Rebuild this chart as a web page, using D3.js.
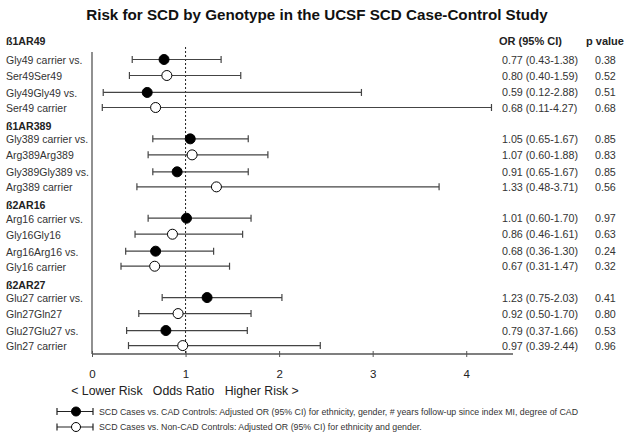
<!DOCTYPE html>
<html><head><meta charset="utf-8">
<script src="https://cdn.jsdelivr.net/npm/d3@7"></script>
<style>body{margin:0;background:#fff}svg{display:block;font-family:"Liberation Sans",Arial,sans-serif}</style>
</head><body><svg id="c" width="629" height="438"></svg>
<script>
const groups = ["ß1AR49","ß1AR389","ß2AR16","ß2AR27"];
const labelsA = ["Gly49 carrier vs.","Ser49Ser49","Gly49Gly49 vs.","Ser49 carrier",
                 "Gly389 carrier vs.","Arg389Arg389","Gly389Gly389 vs.","Arg389 carrier",
                 "Arg16 carrier vs.","Gly16Gly16","Arg16Arg16 vs.","Gly16 carrier",
                 "Glu27 carrier vs.","Gln27Gln27","Glu27Glu27 vs.","Gln27 carrier"];
const series = ["CAD","NonCAD","CAD","NonCAD","CAD","NonCAD","CAD","NonCAD","CAD","NonCAD","CAD","NonCAD","CAD","NonCAD","CAD","NonCAD"];
const orVal = [0.77,0.80,0.59,0.68, 1.05,1.07,0.91,1.33, 1.01,0.86,0.68,0.67, 1.23,0.92,0.79,0.97];
const ciLo  = [0.43,0.40,0.12,0.11, 0.65,0.60,0.65,0.48, 0.60,0.46,0.36,0.31, 0.75,0.50,0.37,0.39];
const ciHi  = [1.38,1.59,2.88,4.27, 1.67,1.88,1.67,3.71, 1.70,1.61,1.30,1.47, 2.03,1.70,1.66,2.44];
const pVal  = ["0.38","0.52","0.51","0.68","0.85","0.83","0.85","0.56","0.97","0.63","0.24","0.32","0.41","0.80","0.53","0.96"];
const xTicks = [0,1,2,3,4];
const legendText = ["SCD Cases vs. CAD Controls: Adjusted OR (95% CI) for ethnicity, gender, # years follow-up since index MI, degree of CAD",
                    "SCD Cases vs. Non-CAD Controls: Adjusted OR (95% CI) for ethnicity and gender."];
const legendSeries = ["CAD","NonCAD"];

const svg = d3.select("#c");
const x = d3.scaleLinear().domain([0,4.5]).range([92,513]);
const within = [0,1,2.06,3];
const pos = (i)=> Math.floor(i/4)*4.96 + within[i%4];
const y = d3.scaleLinear().domain([0,1]).range([59.5,75.5]);
const rows = orVal.map((v,i)=>({v,lo:ciLo[i],hi:ciHi[i],p:pVal[i],s:series[i],lab:labelsA[i],y:y(pos(i))}));
const col = "#333";

svg.append("text").attr("x",317).attr("y",20).attr("text-anchor","middle")
  .attr("font-weight","bold").attr("font-size",15.2).attr("fill","#111")
  .text("Risk for SCD by Genotype in the UCSF SCD Case-Control Study");

groups.forEach((g,gi)=>{
  const yy = gi===0 ? 45 : y(gi*4.96)-9;
  svg.append("text").attr("x",6).attr("y",yy).attr("font-weight","bold")
    .attr("font-size",10.6).attr("fill","#222").text(g);
});
svg.append("text").attr("x",499).attr("y",45).attr("font-weight","bold").attr("font-size",11).attr("fill","#222").text("OR (95% CI)");
svg.append("text").attr("x",586).attr("y",45).attr("font-weight","bold").attr("font-size",11).attr("fill","#222").text("p value");

const axisY = 354;
const xa = svg.append("g").attr("transform",`translate(0,${axisY})`)
  .call(d3.axisBottom(x).tickValues(xTicks).tickSize(4).tickFormat(d3.format("d")));
xa.select(".domain").attr("stroke","#555").attr("stroke-width",1.3).attr("d",`M${x(0)},0H${x(4.5)}`);
xa.selectAll(".tick line").attr("stroke","#555").attr("y1",-3).attr("y2",3);
xa.selectAll(".tick text").attr("font-size",11.5).attr("fill","#222").attr("dy",0).attr("y",24).attr("font-family","Liberation Sans, Arial");
svg.append("line").attr("x1",x(0)).attr("x2",x(0)).attr("y1",52).attr("y2",axisY).attr("stroke","#555").attr("stroke-width",1.3);
svg.append("line").attr("x1",x(1)).attr("x2",x(1)).attr("y1",47).attr("y2",axisY).attr("stroke","#222").attr("stroke-width",1).attr("stroke-dasharray","2,2");

svg.append("text").attr("x",185).attr("y",395).attr("text-anchor","middle").attr("font-size",12.3).attr("fill","#222")
  .attr("xml:space","preserve").text("< Lower Risk   Odds Ratio   Higher Risk >");

const rg = svg.selectAll(".row").data(rows).enter().append("g");
rg.append("text").attr("x",6).attr("y",d=>d.y+4.5).attr("font-size",10.5).attr("fill",col).text(d=>d.lab);
rg.append("line").attr("x1",d=>x(d.lo)).attr("x2",d=>x(d.hi)).attr("y1",d=>d.y).attr("y2",d=>d.y).attr("stroke","#444").attr("stroke-width",1.2);
rg.append("line").attr("x1",d=>x(d.lo)).attr("x2",d=>x(d.lo)).attr("y1",d=>d.y-3.5).attr("y2",d=>d.y+3.5).attr("stroke","#444").attr("stroke-width",1.2);
rg.append("line").attr("x1",d=>x(d.hi)).attr("x2",d=>x(d.hi)).attr("y1",d=>d.y-3.5).attr("y2",d=>d.y+3.5).attr("stroke","#444").attr("stroke-width",1.2);
rg.append("circle").attr("cx",d=>x(d.v)).attr("cy",d=>d.y).attr("r",5)
  .attr("fill",d=>d.s==="CAD"?"#000":"#fff").attr("stroke","#000").attr("stroke-width",1);
rg.append("text").attr("x",502).attr("y",d=>d.y+4).attr("font-size",10.7).attr("fill",col)
  .text((d)=>`${d.v.toFixed(2)} (${d.lo.toFixed(2)}-${d.hi.toFixed(2)})`);
rg.append("text").attr("x",595).attr("y",d=>d.y+4).attr("font-size",10.7).attr("fill",col).text(d=>d.p);

legendSeries.forEach((s,i)=>{
  const ly = 411.5 + i*15.5;
  const g = svg.append("g");
  g.append("line").attr("x1",57).attr("x2",93).attr("y1",ly).attr("y2",ly).attr("stroke","#222").attr("stroke-width",1.2);
  g.append("line").attr("x1",57).attr("x2",57).attr("y1",ly-3.5).attr("y2",ly+3.5).attr("stroke","#222").attr("stroke-width",1.2);
  g.append("line").attr("x1",93).attr("x2",93).attr("y1",ly-3.5).attr("y2",ly+3.5).attr("stroke","#222").attr("stroke-width",1.2);
  g.append("circle").attr("cx",76).attr("cy",ly).attr("r",4.5).attr("fill",s==="CAD"?"#000":"#fff").attr("stroke","#000");
  g.append("text").attr("x",99).attr("y",ly+3).attr("font-size",8.8).attr("fill","#333").text(legendText[i]);
});
</script></body></html>
